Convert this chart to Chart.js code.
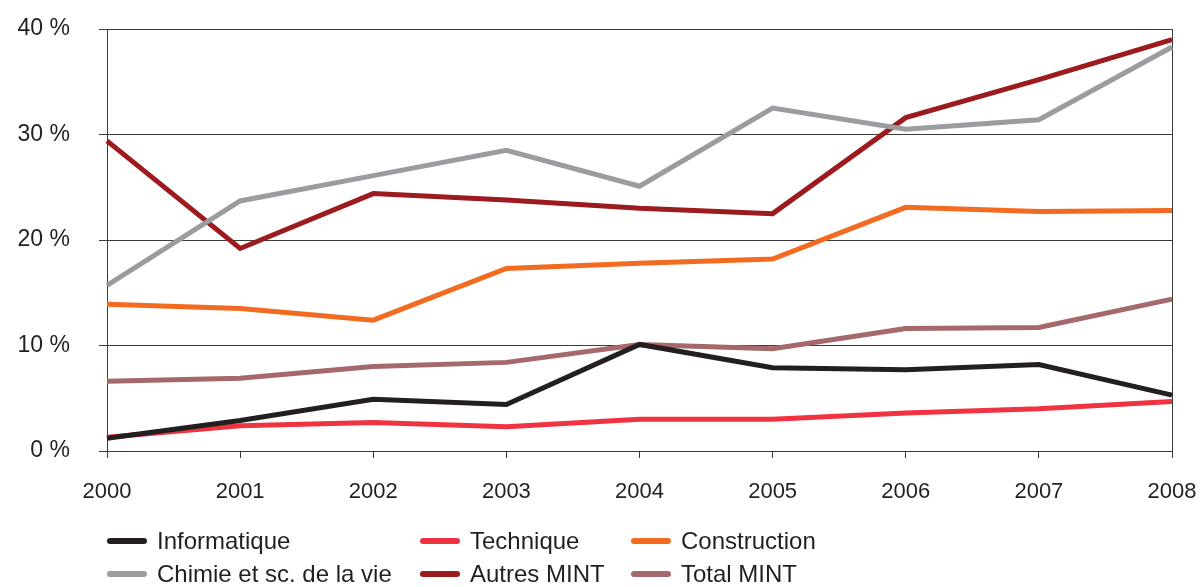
<!DOCTYPE html>
<html>
<head>
<meta charset="utf-8">
<script src="https://cdn.jsdelivr.net/npm/chart.js@4"></script>
<style>
  body { margin: 0; background: #fff; }
  #chart { display: block; }
</style>
</head>
<body>
<canvas id="chart" width="1202" height="587"></canvas>
<script>
const years = ['2000', '2001', '2002', '2003', '2004', '2005', '2006', '2007', '2008'];
const seriesNames = ['Informatique', 'Technique', 'Construction', 'Chimie et sc. de la vie', 'Autres MINT', 'Total MINT'];
const informatique = [1.2, 2.9, 4.9, 4.4, 10.1, 7.9, 7.7, 8.2, 5.3];
const technique = [1.3, 2.4, 2.7, 2.3, 3.0, 3.0, 3.6, 4.0, 4.7];
const construction = [13.9, 13.5, 12.4, 17.3, 17.8, 18.2, 23.1, 22.7, 22.8];
const chimie = [15.7, 23.7, 26.1, 28.5, 25.1, 32.5, 30.5, 31.4, 38.3];
const autresMint = [29.4, 19.2, 24.4, 23.8, 23.0, 22.5, 31.6, 35.2, 39.0];
const totalMint = [6.6, 6.9, 8.0, 8.4, 10.1, 9.7, 11.6, 11.7, 14.4];
const yTicks = [0, 10, 20, 30, 40];

const colors = ['#231f20', '#ef3340', '#f26b21', '#9a9ca0', '#9b1b1f', '#a5686b'];
const values = [informatique, technique, construction, chimie, autresMint, totalMint];
const axisColor = '#3a3a3a';
const textColor = '#231f20';
const fontFamily = '"Liberation Sans", Arial, sans-serif';

// legend drawn on the canvas in three columns, like the original
const columnLegend = {
    id: 'columnLegend',
    afterDraw(chart) {
        const c = chart.ctx;
        const cols = [107, 420, 631];
        const rows = [541, 574];
        c.save();
        c.font = '24px ' + fontFamily;
        c.textBaseline = 'middle';
        chart.data.datasets.forEach((ds, i) => {
            const x = cols[i % 3];
            const y = rows[Math.floor(i / 3)];
            c.strokeStyle = ds.borderColor;
            c.lineWidth = 6;
            c.lineCap = 'round';
            c.beginPath();
            c.moveTo(x + 3, y);
            c.lineTo(x + 37, y);
            c.stroke();
            c.fillStyle = textColor;
            c.fillText(ds.label, x + 50, y + 1);
        });
        c.restore();
    }
};

new Chart(document.getElementById('chart'), {
    type: 'line',
    data: {
        labels: years,
        datasets: seriesNames.map((name, i) => ({
            label: name,
            data: values[i],
            borderColor: colors[i],
            backgroundColor: colors[i],
            borderWidth: 5,
            pointRadius: 0,
            tension: 0,
            fill: false
        }))
    },
    options: {
        responsive: false,
        animation: false,
        devicePixelRatio: 1,
        layout: { padding: { top: 29, right: 30, left: 0, bottom: 0 } },
        plugins: {
            legend: { display: false },
            tooltip: { enabled: false }
        },
        scales: {
            x: {
                offset: false,
                grid: {
                    color: ctx => ctx.index === years.length - 1 ? axisColor : 'transparent',
                    tickColor: axisColor,
                    tickLength: 7,
                    lineWidth: 1
                },
                border: { color: axisColor, width: 1 },
                ticks: {
                    color: textColor,
                    font: { family: fontFamily, size: 22 },
                    padding: 21,
                    maxRotation: 0,
                    autoSkip: false
                },
                afterFit: s => {
                    s.height = 136;
                    s.paddingLeft = 0;
                    s.paddingRight = 0;
                }
            },
            y: {
                min: yTicks[0],
                max: yTicks[yTicks.length - 1],
                afterBuildTicks: s => { s.ticks = yTicks.map(v => ({ value: v })); },
                grid: { color: axisColor, tickLength: 8, lineWidth: 1 },
                border: { color: axisColor, width: 1 },
                ticks: {
                    color: textColor,
                    font: { family: fontFamily, size: 23 },
                    padding: 29,
                    callback: v => v + ' %'
                },
                afterFit: s => {
                    s.width = 107;
                    s.paddingTop = 0;
                    s.paddingBottom = 0;
                }
            }
        }
    },
    plugins: [columnLegend]
});
</script>
</body>
</html>
